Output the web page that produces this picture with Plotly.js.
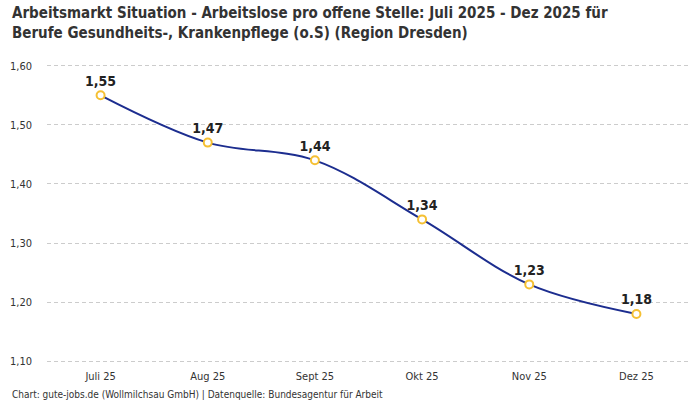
<!DOCTYPE html>
<html>
<head>
<meta charset="utf-8">
<script src="https://cdn.plot.ly/plotly-3.0.1.min.js"></script>
<style>
  body { margin: 0; background: #fff; }
  #chart { width: 700px; height: 400px; }
</style>
</head>
<body>
<div id="chart"></div>
<script>
// Arbeitslose pro offene Stelle, Region Dresden
const months = ['Juli 25', 'Aug 25', 'Sept 25', 'Okt 25', 'Nov 25', 'Dez 25'];
const ratio = [1.55, 1.47, 1.44, 1.34, 1.23, 1.18];
const yTicks = [1.10, 1.20, 1.30, 1.40, 1.50, 1.60];

const font = '"Liberation Sans Narrow", "DejaVu Sans Condensed", "Liberation Sans", sans-serif';

const trace = {
    x: months,
    y: ratio,
    type: 'scatter',
    mode: 'lines+markers+text',
    line: {color: '#1c2d8f', width: 2, shape: 'spline', smoothing: 1},
    marker: {size: 8, color: '#ffffff', line: {color: '#f5c033', width: 2}},
    texttemplate: '%{y:.2f}',
    textposition: 'top center',
    textfont: {family: font, size: 14, color: '#222222', weight: 'bold'},
    cliponaxis: false,
    hoverinfo: 'skip'
};

const layout = {
    width: 700,
    height: 400,
    separators: ',.',
    paper_bgcolor: '#ffffff',
    plot_bgcolor: '#ffffff',
    margin: {l: 47, r: 10, t: 64, b: 37},
    font: {family: font, size: 11, color: '#333333'},
    showlegend: false,
    xaxis: {
        type: 'category',
        range: [-0.5, 5.5],
        showgrid: false,
        zeroline: false,
        showline: false,
        ticks: '',
        ticklabelstandoff: 5,
        tickfont: {size: 11, color: '#333333'}
    },
    yaxis: {
        range: [1.097, 1.603],
        tickvals: yTicks,
        tickformat: '.2f',
        showgrid: true,
        gridcolor: '#cccccc',
        griddash: '4px,3px',
        gridwidth: 1,
        zeroline: false,
        showline: false,
        ticks: '',
        ticklabelstandoff: 14,
        tickfont: {size: 11, color: '#333333'}
    },
    annotations: [{
        text: '<b>Arbeitsmarkt Situation - Arbeitslose pro offene Stelle: Juli 2025 - Dez 2025 für<br>Berufe Gesundheits-, Krankenpflege (o.S) (Region Dresden)</b>',
        xref: 'paper', yref: 'paper',
        x: -0.058, y: 1.207,
        xanchor: 'left', yanchor: 'top',
        align: 'left',
        showarrow: false,
        font: {family: font, size: 15, color: '#333333'}
    }, {
        text: 'Chart: gute-jobs.de (Wollmilchsau GmbH) | Datenquelle: Bundesagentur für Arbeit',
        xref: 'paper', yref: 'paper',
        x: -0.058, y: -0.08,
        xanchor: 'left', yanchor: 'top',
        showarrow: false,
        font: {family: font, size: 10, color: '#333333'}
    }]
};

Plotly.newPlot('chart', [trace], layout, {displayModeBar: false, staticPlot: true});
</script>
</body>
</html>
